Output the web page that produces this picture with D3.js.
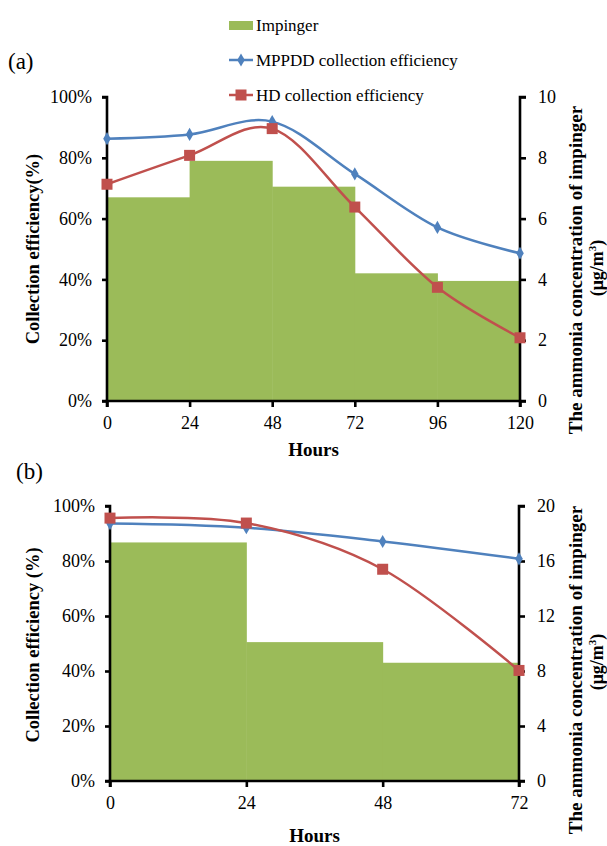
<!DOCTYPE html>
<html><head><meta charset="utf-8">
<script src="https://cdn.jsdelivr.net/npm/d3@7"></script>
<style>body{margin:0;background:#fff}svg{display:block}text{font-family:"Liberation Serif","Times New Roman",serif;fill:#000}</style>
</head><body>
<svg id="c" width="607" height="846"></svg>
<script>
const hoursA = [0, 24, 48, 72, 96, 120];
const impingerA = [6.7, 7.9, 7.05, 4.2, 3.95];
const mppddA = [86.3, 87.7, 91.9, 74.7, 57.1, 48.6];
const hdA = [71.3, 80.8, 89.6, 63.8, 37.4, 20.8];

const hoursB = [0, 24, 48, 72];
const impingerB = [17.35, 10.1, 8.6];
const mppddB = [93.6, 92.1, 87.1, 80.8];
const hdB = [95.6, 93.8, 77.0, 40.2];

const leftTicks = [0, 20, 40, 60, 80, 100];
const rightTicksA = [0, 2, 4, 6, 8, 10];
const rightTicksB = [0, 4, 8, 12, 16, 20];
const legendLabels = ["Impinger", "MPPDD collection efficiency", "HD collection efficiency"];

const GREEN = "#9BBB59", BLUE = "#4F81BD", RED = "#C0504D";
const SERIF = '"Liberation Serif","Times New Roman",serif';
const svg = d3.select("#c");

function panel(o) {
  const g = svg.append("g");
  const x = d3.scaleLinear().domain([0, d3.max(o.hours)]).range([o.x0, o.x1]);
  const yL = d3.scaleLinear().domain([0, 100]).range([o.y0, o.y1]);
  const yR = d3.scaleLinear().domain([0, d3.max(o.rTicks)]).range([o.y0, o.y1]);

  // step bars
  g.selectAll("rect.bar").data(o.imp).enter().append("rect")
    .attr("x", (d, i) => x(o.hours[i]))
    .attr("width", (d, i) => x(o.hours[i + 1]) - x(o.hours[i]) + 0.5)
    .attr("y", d => yR(d))
    .attr("height", d => yR(0) - yR(d))
    .attr("fill", GREEN);

  // axes
  const ax = g.append("g").attr("transform", `translate(0,${o.y0})`)
    .call(d3.axisBottom(x).tickValues(o.hours).tickSize(6).tickPadding(9).tickFormat(d3.format("d")));
  const al = g.append("g").attr("transform", `translate(${o.x0},0)`)
    .call(d3.axisLeft(yL).tickValues(leftTicks).tickSize(5).tickPadding(10).tickFormat(d => d + "%"));
  const ar = g.append("g").attr("transform", `translate(${o.x1},0)`)
    .call(d3.axisRight(yR).tickValues(o.rTicks).tickSize(6).tickPadding(12).tickFormat(d3.format("d")));
  [ax, al, ar].forEach(a => {
    a.attr("font-family", null).attr("font-size", null);
    a.select(".domain").attr("stroke", "#000").attr("stroke-width", 2.6);
    a.selectAll(".tick line").attr("stroke", "#000").attr("stroke-width", 2.6);
    a.selectAll("text").style("font-family", SERIF).style("font-size", "18px").attr("fill", "#000");
  });
  ax.select(".domain").attr("d", `M${o.x0},6V0H${o.x1}V6`);
  al.select(".domain").attr("d", `M-5,${o.y1}H0V${o.y0}H-5`);
  ar.select(".domain").attr("d", `M6,${o.y1}H0V${o.y0}H6`);

  const curve = d3.curveCatmullRom.alpha(0);
  const line = d3.line().x((d, i) => x(o.hours[i])).y(d => yL(d)).curve(curve);
  g.append("path").attr("d", line(o.mppdd)).attr("fill", "none").attr("stroke", BLUE).attr("stroke-width", 2.5);
  g.append("path").attr("d", line(o.hd)).attr("fill", "none").attr("stroke", RED).attr("stroke-width", 2.5);
  g.selectAll("path.dia").data(o.mppdd).enter().append("path")
    .attr("d", d3.symbol(d3.symbolDiamond, 50))
    .attr("transform", (d, i) => `translate(${x(o.hours[i])},${yL(d)})`)
    .attr("fill", BLUE);
  g.selectAll("rect.sq").data(o.hd).enter().append("rect")
    .attr("x", (d, i) => x(o.hours[i]) - 5.5).attr("y", d => yL(d) - 5.5)
    .attr("width", 11).attr("height", 11).attr("fill", RED);

  // labels
  g.append("text").attr("x", (o.x0 + o.x1) / 2).attr("y", o.hoursY).attr("text-anchor", "middle")
    .attr("font-weight", "bold").attr("font-size", 19).text("Hours");
  g.append("text").attr("transform", `translate(${o.lLabX},${o.lLabY}) rotate(-90)`).attr("text-anchor", "middle")
    .attr("font-weight", "bold").attr("font-size", 18.5).text(o.lLabel);
  g.append("text").attr("transform", `translate(${o.rLabX},${o.rLabY}) rotate(-90)`).attr("text-anchor", "middle")
    .attr("font-weight", "bold").attr("font-size", 19).text("The ammonia concentration of impinger");
  const t2 = g.append("text").attr("transform", `translate(${o.rLabX + 21},${o.rLabY2}) rotate(-90)`).attr("text-anchor", "middle")
    .attr("font-weight", "bold").attr("font-size", 18);
  t2.append("tspan").text("(μg/m");
  t2.append("tspan").attr("font-size", 11).attr("dy", -7).text("3");
  t2.append("tspan").attr("dy", 7).text(")");
  g.append("text").attr("x", o.tagX).attr("y", o.tagY).attr("font-size", 23).text(o.tag);
}

panel({hours: hoursA, imp: impingerA, mppdd: mppddA, hd: hdA, rTicks: rightTicksA,
  x0: 107, x1: 520, y0: 401, y1: 97, hoursY: 456, lLabX: 39, lLabY: 249, lLabel: "Collection efficiency(%)",
  rLabX: 582, rLabY: 270, rLabY2: 268, tag: "(a)", tagX: 8, tagY: 69});
panel({hours: hoursB, imp: impingerB, mppdd: mppddB, hd: hdB, rTicks: rightTicksB,
  x0: 110, x1: 519, y0: 781, y1: 506, hoursY: 842, lLabX: 39, lLabY: 645, lLabel: "Collection efficiency (%)",
  rLabX: 582, rLabY: 670, rLabY2: 662, tag: "(b)", tagX: 16, tagY: 479});

// legend
const leg = svg.append("g");
leg.append("rect").attr("x", 229).attr("y", 21).attr("width", 24).attr("height", 9).attr("fill", GREEN);
leg.append("line").attr("x1", 229).attr("x2", 253).attr("y1", 60).attr("y2", 60).attr("stroke", BLUE).attr("stroke-width", 2.5);
leg.append("path").attr("d", d3.symbol(d3.symbolDiamond, 50)).attr("transform", "translate(241,60)").attr("fill", BLUE);
leg.append("line").attr("x1", 229).attr("x2", 253).attr("y1", 95).attr("y2", 95).attr("stroke", RED).attr("stroke-width", 2.5);
leg.append("rect").attr("x", 235.5).attr("y", 89.5).attr("width", 11).attr("height", 11).attr("fill", RED);
leg.selectAll("text.l").data(legendLabels).enter().append("text")
  .attr("x", 256).attr("y", (d, i) => 31 + i * 35).attr("font-size", 17).text(d => d);
</script>
</body></html>
